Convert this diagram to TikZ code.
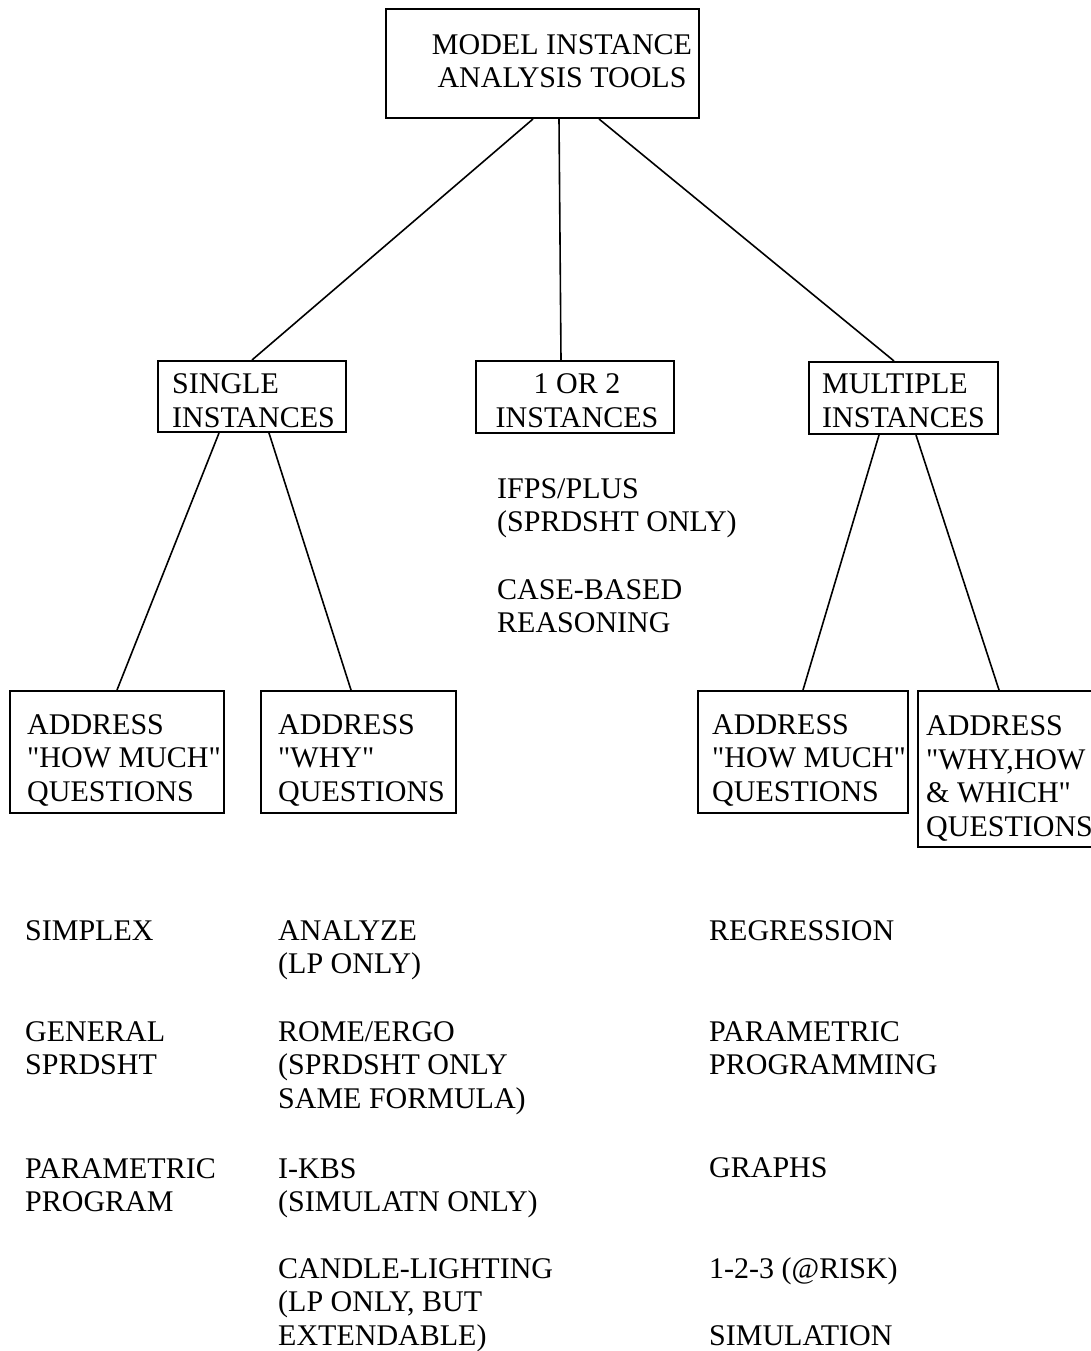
\documentclass[tikz,border=0pt]{standalone}
\usepackage{fontspec}
\newfontfamily\diagfont{Liberation Serif}

\tikzset{
  box/.style={draw, line width=2pt, anchor=north west, inner sep=0pt},
  lbl/.style={anchor=base west, align=left, inner sep=0pt,
    font=\diagfont\fontsize{30}{33.5}\selectfont},
  clbl/.style={lbl, anchor=base, align=center},
  link/.style={line width=1.6pt},
}

\begin{document}
\begin{tikzpicture}[x=1pt,y=-1pt]
        \path[use as bounding box, clip] (0,0) rectangle (1091,1351);
        % \draw[step=50,gray,very thin] (0,0) grid (1091,1351);
        \node[box, minimum width=313pt, minimum height=109pt] (top) at (385,8) {};
        \node[box, minimum width=188pt, minimum height=71pt] (single) at (157,360) {};
        \node[box, minimum width=198pt, minimum height=72pt] (onetwo) at (475,360) {};
        \node[box, minimum width=189pt, minimum height=72pt] (multi) at (808,361) {};
        \node[box, minimum width=214pt, minimum height=122pt] (hmleft) at (9,690) {};
        \node[box, minimum width=195pt, minimum height=122pt] (why) at (260,690) {};
        \node[box, minimum width=210pt, minimum height=122pt] (hmright) at (697,690) {};
        \node[box, minimum width=190pt, minimum height=156pt] (whyhow) at (917,690) {};
        % text anchors sit on the last line's baseline
        \node[clbl] (topT) at (562,88) {MODEL INSTANCE\\ANALYSIS TOOLS};
        \node[lbl] (singleT) at (172,427) {SINGLE\\INSTANCES};
        \node[clbl] (onetwoT) at (577,427) {1 OR 2\\INSTANCES};
        \node[lbl] (multiT) at (822,427) {MULTIPLE\\INSTANCES};
        \node[lbl] (hmleftT) at (27,801) {ADDRESS\\"HOW~MUCH"\\QUESTIONS};
        \node[lbl] (whyT) at (278,801) {ADDRESS\\"WHY"\\QUESTIONS};
        \node[lbl] (hmrightT) at (712,801) {ADDRESS\\"HOW~MUCH"\\QUESTIONS};
        \node[lbl] (whyhowT) at (926,836) {ADDRESS\\"WHY,HOW\\\& WHICH"\\QUESTIONS};
        \node[lbl] (ifps) at (497,531.5) {IFPS/PLUS\\(SPRDSHT ONLY)};
        \node[lbl] (casebased) at (497,632.5) {CASE-BASED\\REASONING};
        \node[lbl] (simplex) at (25,940) {SIMPLEX};
        \node[lbl] (general) at (25,1074.5) {GENERAL\\SPRDSHT};
        \node[lbl] (paramprog) at (25,1211.5) {PARAMETRIC\\PROGRAM};
        \node[lbl] (analyze) at (278,973.5) {ANALYZE\\(LP ONLY)};
        \node[lbl] (romeergo) at (278,1108) {ROME/ERGO\\(SPRDSHT ONLY\\SAME FORMULA)};
        \node[lbl] (ikbs) at (278,1211.5) {I-KBS\\(SIMULATN ONLY)};
        \node[lbl] (candle) at (278,1345) {CANDLE-LIGHTING\\(LP ONLY, BUT\\EXTENDABLE)};
        \node[lbl] (regression) at (709,940) {REGRESSION};
        \node[lbl] (parametric) at (709,1074.5) {PARAMETRIC\\PROGRAMMING};
        \node[lbl] (graphs) at (709,1177) {GRAPHS};
        \node[lbl] (risk) at (709,1278) {1-2-3 (@RISK)};
        \node[lbl] (simulation) at (709,1345) {SIMULATION};
        \draw[link] ([xshift=-9.5pt]top.south) -- (single.north);
        \draw[link] ([xshift=16.5pt]top.south) -- ([xshift=-14pt]onetwo.north);
        \draw[link] ([xshift=56.5pt]top.south) -- ([xshift=-9.5pt]multi.north);
        \draw[link] ([xshift=-33pt]single.south) -- (hmleft.north);
        \draw[link] ([xshift=17pt]single.south) -- ([xshift=-7.5pt]why.north);
        \draw[link] ([xshift=-24.5pt]multi.south) -- (hmright.north);
        \draw[link] ([xshift=12.5pt]multi.south) -- ([xshift=-14pt]whyhow.north);
      \end{tikzpicture}
\end{document}
